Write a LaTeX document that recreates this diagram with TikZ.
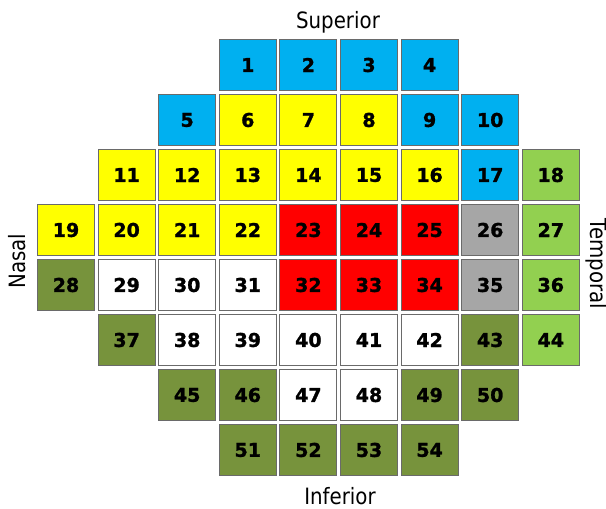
\documentclass[tikz,border=0pt]{standalone}
\usepackage{fontspec}
\setmainfont{DejaVu Sans}
\newfontfamily\labfont[FakeStretch=0.88]{DejaVu Sans}
\newfontfamily\numfont[FakeBold=1.3]{DejaVu Sans Bold}
\definecolor{cb}{HTML}{00B0F0}
\definecolor{cy}{HTML}{FFFF00}
\definecolor{cr}{HTML}{FF0000}
\definecolor{cg}{HTML}{A6A6A6}
\definecolor{cl}{HTML}{92D050}
\definecolor{cd}{HTML}{77933C}
\definecolor{cw}{HTML}{FFFFFF}
\definecolor{bord}{HTML}{6A6A6A}
\begin{document}
\begin{tikzpicture}[x=1pt,y=-1pt,
  cellbox/.style={draw=bord,line width=1.1pt,minimum width=57pt,minimum height=51.5pt,inner sep=0pt,
    font=\numfont\fontsize{19}{19}\selectfont},
  sidelab/.style={font=\labfont\fontsize{22.5}{22.5}\selectfont,inner sep=0pt}]
\useasboundingbox (0,0) rectangle (606,509);
\foreach \n/\c/\r/\f in {
 1/3/0/cb,2/4/0/cb,3/5/0/cb,4/6/0/cb,
 5/2/1/cb,6/3/1/cy,7/4/1/cy,8/5/1/cy,9/6/1/cb,10/7/1/cb,
 11/1/2/cy,12/2/2/cy,13/3/2/cy,14/4/2/cy,15/5/2/cy,16/6/2/cy,17/7/2/cb,18/8/2/cl,
 19/0/3/cy,20/1/3/cy,21/2/3/cy,22/3/3/cy,23/4/3/cr,24/5/3/cr,25/6/3/cr,26/7/3/cg,27/8/3/cl,
 28/0/4/cd,29/1/4/cw,30/2/4/cw,31/3/4/cw,32/4/4/cr,33/5/4/cr,34/6/4/cr,35/7/4/cg,36/8/4/cl,
 37/1/5/cd,38/2/5/cw,39/3/5/cw,40/4/5/cw,41/5/5/cw,42/6/5/cw,43/7/5/cd,44/8/5/cl,
 45/2/6/cd,46/3/6/cd,47/4/6/cw,48/5/6/cw,49/6/6/cd,50/7/6/cd,
 51/3/7/cd,52/4/7/cd,53/5/7/cd,54/6/7/cd}
 {\node[cellbox,fill=\f] (c\n) at ({66+60.6*\c},{65+55*\r}) {\n};}
\node[sidelab,anchor=base] (sup) at (338,28) {Superior};
\node[sidelab,anchor=base] (inf) at (340,504) {Inferior};
\node[sidelab,anchor=base,rotate=90] (nas) at (25,261) {Nasal};
\node[sidelab,anchor=base,rotate=-90] (tem) at (590,264) {Temporal};
\end{tikzpicture}
\end{document}
